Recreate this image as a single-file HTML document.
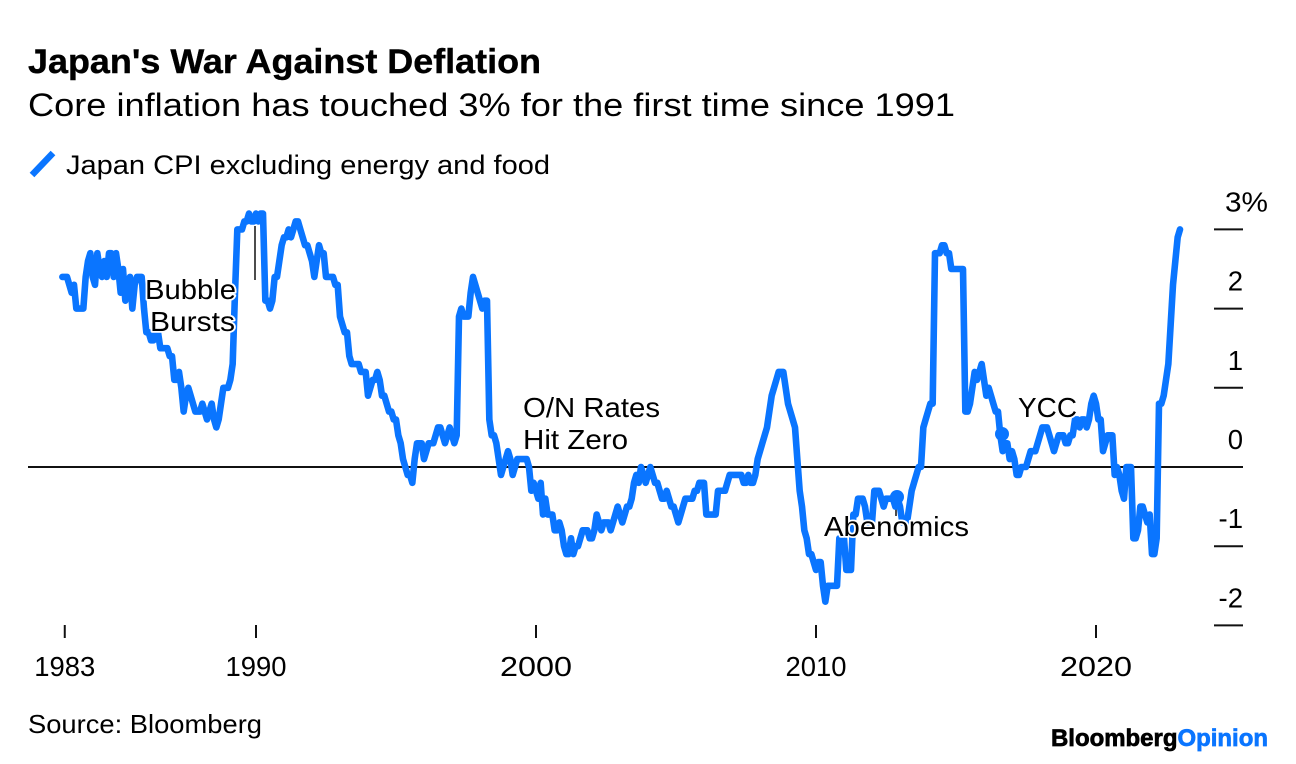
<!DOCTYPE html>
<html lang="en">
<head>
<meta charset="utf-8">
<title>Japan's War Against Deflation</title>
<style>
  html, body { margin: 0; padding: 0; background: #fff; }
  body { width: 1296px; height: 764px; overflow: hidden; }
  svg { display: block; font-family: "Liberation Sans", Arial, sans-serif; fill: #000; }
  .halo { paint-order: stroke; stroke: #fff; stroke-width: 3.5px; stroke-linejoin: round; }
</style>
</head>
<body>
<svg id="chart" width="1296" height="764" viewBox="0 0 1296 764" xmlns="http://www.w3.org/2000/svg">
  <rect x="0" y="0" width="1296" height="764" fill="#fff"/>
  <text x="28" y="73" font-size="34" font-weight="700" stroke="#000" stroke-width="0.4" textLength="513" lengthAdjust="spacingAndGlyphs">Japan's War Against Deflation</text>
  <text x="28" y="116" font-size="32" textLength="927" lengthAdjust="spacingAndGlyphs">Core inflation has touched 3% for the first time since 1991</text>
  <line x1="32" y1="175" x2="53" y2="153" stroke="#0a75ff" stroke-width="6.5"/>
  <text x="66" y="174" font-size="27" textLength="484" lengthAdjust="spacingAndGlyphs">Japan CPI excluding energy and food</text>

  <g id="y-axis"></g>
  <g id="x-axis"></g>
  <line x1="28" y1="467" x2="1243" y2="467" stroke="#111" stroke-width="2"/>

  <line x1="255" y1="226" x2="255" y2="280" stroke="#111" stroke-width="1.5"/>
  <line x1="507" y1="455" x2="507" y2="460" stroke="#111" stroke-width="1.5"/>
  <line x1="896" y1="497" x2="896" y2="516" stroke="#111" stroke-width="1.5"/>
  <line x1="1001" y1="420" x2="1001" y2="435" stroke="#111" stroke-width="1.5"/>

  <path id="cpi-line" fill="none" stroke="#0a75ff" stroke-width="6.6" stroke-linejoin="round" stroke-linecap="round"/>
  <circle cx="897" cy="497" r="7" fill="#0a75ff"/>
  <circle cx="1002" cy="434" r="7" fill="#0a75ff"/>

  <text class="halo" x="145" y="299" font-size="27.5" textLength="91" lengthAdjust="spacingAndGlyphs">Bubble</text>
  <text class="halo" x="150" y="331" font-size="27.5" textLength="85" lengthAdjust="spacingAndGlyphs">Bursts</text>
  <text class="halo" x="523" y="417" font-size="27.5" textLength="137" lengthAdjust="spacingAndGlyphs">O/N Rates</text>
  <text class="halo" x="523" y="449" font-size="27.5" textLength="105" lengthAdjust="spacingAndGlyphs">Hit Zero</text>
  <text class="halo" x="824" y="536" font-size="27.5" textLength="145" lengthAdjust="spacingAndGlyphs">Abenomics</text>
  <text class="halo" x="1018" y="417" font-size="27.5" textLength="59" lengthAdjust="spacingAndGlyphs">YCC</text>

  <text x="28" y="733" font-size="26" textLength="234" lengthAdjust="spacingAndGlyphs">Source: Bloomberg</text>
  <text x="1051" y="746" font-size="24" font-weight="700" stroke-width="0.7" textLength="217" lengthAdjust="spacingAndGlyphs"><tspan fill="#000" stroke="#000">Bloomberg</tspan><tspan fill="#0a75ff" stroke="#0a75ff">Opinion</tspan></text>
</svg>
<script>
// Monthly series, beginning February 1983
const firstDate = 1983 + 1 / 12;
const cpiValues = [
  /*1983*/ 2.4,2.4,2.4,2.3,2.2,2.3,2.0,2.0,2.0,2.0,2.4,
  /*1984*/ 2.6,2.7,2.4,2.3,2.7,2.5,2.4,2.6,2.4,2.7,2.7,2.4,
  /*1985*/ 2.7,2.5,2.2,2.5,2.1,2.3,2.4,2.0,2.3,2.4,2.4,2.4,
  /*1986*/ 2.0,1.7,1.7,1.6,1.6,1.7,1.7,1.5,1.5,1.5,1.5,1.4,
  /*1987*/ 1.4,1.1,1.1,1.2,1.0,0.7,0.9,1.0,0.9,0.8,0.7,0.7,
  /*1988*/ 0.7,0.8,0.7,0.6,0.7,0.8,0.6,0.5,0.6,0.8,1.0,1.0,
  /*1989*/ 1.0,1.1,1.3,2.2,3.0,3.0,3.0,3.1,3.1,3.2,3.1,3.1,
  /*1990*/ 3.2,3.1,3.2,3.2,2.1,2.1,2.0,2.1,2.4,2.4,2.6,2.8,
  /*1991*/ 2.9,2.9,3.0,2.9,3.0,3.1,3.1,3.0,2.9,2.8,2.8,2.7,
  /*1992*/ 2.6,2.4,2.6,2.8,2.7,2.7,2.4,2.4,2.4,2.4,2.3,2.3,
  /*1993*/ 1.9,1.8,1.7,1.7,1.4,1.3,1.3,1.3,1.3,1.2,1.2,1.2,
  /*1994*/ 0.9,1.0,1.1,1.1,1.2,1.1,0.9,0.9,0.8,0.7,0.7,0.6,
  /*1995*/ 0.6,0.4,0.3,0.1,0.0,-0.1,-0.1,-0.2,0.1,0.3,0.3,0.3,
  /*1996*/ 0.1,0.2,0.3,0.3,0.3,0.4,0.5,0.5,0.4,0.3,0.4,0.5,
  /*1997*/ 0.4,0.3,0.4,1.9,2.0,1.9,1.9,1.9,2.2,2.4,2.3,2.2,
  /*1998*/ 2.1,2.0,2.1,2.1,0.6,0.4,0.4,0.3,0.1,-0.1,0.0,0.1,
  /*1999*/ 0.2,0.1,-0.1,0.0,0.1,0.1,0.1,0.1,0.1,0.0,-0.3,-0.2,
  /*2000*/ -0.3,-0.4,-0.2,-0.6,-0.4,-0.6,-0.6,-0.6,-0.8,-0.8,-0.7,-0.8,
  /*2001*/ -1.0,-1.1,-1.1,-0.9,-1.1,-1.0,-1.0,-0.9,-0.8,-0.8,-0.8,-0.9,
  /*2002*/ -0.9,-0.8,-0.6,-0.7,-0.8,-0.7,-0.7,-0.7,-0.8,-0.7,-0.6,-0.5,
  /*2003*/ -0.6,-0.7,-0.6,-0.5,-0.5,-0.4,-0.2,-0.1,-0.2,0.0,-0.1,-0.2,
  /*2004*/ -0.1,0.0,-0.1,-0.2,-0.2,-0.3,-0.4,-0.4,-0.3,-0.4,-0.5,-0.5,
  /*2005*/ -0.6,-0.7,-0.6,-0.5,-0.4,-0.4,-0.4,-0.4,-0.3,-0.3,-0.2,-0.2,
  /*2006*/ -0.2,-0.6,-0.6,-0.6,-0.6,-0.6,-0.3,-0.3,-0.3,-0.3,-0.2,-0.1,
  /*2007*/ -0.1,-0.1,-0.1,-0.1,-0.1,-0.2,-0.2,-0.1,-0.2,-0.2,-0.1,0.1,
  /*2008*/ 0.2,0.3,0.4,0.5,0.7,0.9,1.0,1.1,1.2,1.2,1.2,1.0,
  /*2009*/ 0.8,0.7,0.6,0.5,0.1,-0.3,-0.5,-0.8,-0.9,-1.1,-1.1,-1.2,
  /*2010*/ -1.3,-1.2,-1.2,-1.5,-1.7,-1.5,-1.5,-1.5,-1.5,-1.5,-0.9,-0.9,
  /*2011*/ -0.9,-1.3,-1.3,-1.3,-0.6,-0.6,-0.4,-0.4,-0.4,-0.5,-0.7,-0.7,
  /*2012*/ -0.7,-0.3,-0.3,-0.3,-0.4,-0.5,-0.4,-0.4,-0.4,-0.4,-0.5,-0.4,
  /*2013*/ -0.5,-0.7,-0.7,-0.7,-0.5,-0.3,-0.2,-0.1,0.0,0.0,0.5,0.6,
  /*2014*/ 0.7,0.8,0.8,2.7,2.7,2.7,2.8,2.8,2.7,2.7,2.5,2.5,
  /*2015*/ 2.5,2.5,2.5,2.5,0.7,0.7,0.8,1.0,1.2,1.1,1.2,1.3,
  /*2016*/ 1.1,0.9,1.0,0.9,0.8,0.7,0.7,0.4,0.2,0.3,0.3,0.1,
  /*2017*/ 0.2,0.1,-0.1,-0.1,0.0,0.0,0.0,0.1,0.2,0.2,0.2,0.3,
  /*2018*/ 0.4,0.5,0.5,0.5,0.4,0.3,0.2,0.3,0.4,0.4,0.4,0.3,
  /*2019*/ 0.3,0.4,0.4,0.6,0.6,0.5,0.6,0.6,0.5,0.6,0.8,0.9,
  /*2020*/ 0.8,0.6,0.6,0.2,0.3,0.4,0.4,0.4,-0.1,0.0,-0.1,-0.3,
  /*2021*/ -0.4,0.0,0.0,0.0,-0.9,-0.9,-0.8,-0.5,-0.5,-0.6,-0.7,-0.6,
  /*2022*/ -1.1,-1.1,-0.9,0.8,0.8,0.9,1.1,1.3,1.8,2.3,2.6,2.9,
  /*2023*/ 3.0
];
const yTickValues = [3, 2, 1, 0, -1, -2];
const yTickLabels = ["3%", "2", "1", "0", "-1", "-2"];
const xTickDates = [1983.17, 1990, 2000, 2010, 2020];
const xTickLabels = ["1983", "1990", "2000", "2010", "2020"];

const SVG_NS = "http://www.w3.org/2000/svg";
function xScale(year) { return 536 + (year - 2000) * 28; }
function yScale(value) { return 467 - value * 79.2; }
// The original typeface sets "1" narrow and other digits wide.
function yearLabelWidth(text) {
  return text.split("").reduce(function (sum, ch) { return sum + (ch === "1" ? 7 : 18); }, 0);
}

const yAxis = document.getElementById("y-axis");
yTickValues.forEach(function (value, i) {
  const tick = document.createElementNS(SVG_NS, "line");
  
  
  tick.setAttribute("x1", 1214);
  tick.setAttribute("x2", 1243);
  tick.setAttribute("y1", yScale(value));
  tick.setAttribute("y2", yScale(value));
  tick.setAttribute("stroke", "#111");
  tick.setAttribute("stroke-width", 2);
  yAxis.appendChild(tick);

  const label = document.createElementNS(SVG_NS, "text");
  
  
  label.setAttribute("x", i === 0 ? 1225 : 1243);
  label.setAttribute("y", yScale(value) - 18);
  label.setAttribute("font-size", 27.5);
  label.setAttribute("text-anchor", i === 0 ? "start" : "end");
  if (i === 0) {
    label.setAttribute("textLength", 43);
    label.setAttribute("lengthAdjust", "spacingAndGlyphs");
  }
  label.textContent = yTickLabels[i];
  yAxis.appendChild(label);
});

const xAxis = document.getElementById("x-axis");
xTickDates.forEach(function (date, i) {
  const tick = document.createElementNS(SVG_NS, "line");
  
  
  tick.setAttribute("x1", xScale(date));
  tick.setAttribute("x2", xScale(date));
  tick.setAttribute("y1", 625);
  tick.setAttribute("y2", 638);
  tick.setAttribute("stroke", "#111");
  tick.setAttribute("stroke-width", 2);
  xAxis.appendChild(tick);

  const label = document.createElementNS(SVG_NS, "text");
  
  
  label.setAttribute("x", xScale(date));
  label.setAttribute("y", 676);
  label.setAttribute("font-size", 28);
  label.setAttribute("text-anchor", "middle");
  label.setAttribute("textLength", yearLabelWidth(xTickLabels[i]));
  label.setAttribute("lengthAdjust", "spacingAndGlyphs");
  label.textContent = xTickLabels[i];
  xAxis.appendChild(label);
});

const linePath = cpiValues.map(function (value, i) {
  const date = firstDate + i / 12;
  return (i === 0 ? "M" : "L") + xScale(date).toFixed(2) + " " + yScale(value).toFixed(2);
}).join(" ");
document.getElementById("cpi-line").setAttribute("d", linePath);
</script>
</body>
</html>
